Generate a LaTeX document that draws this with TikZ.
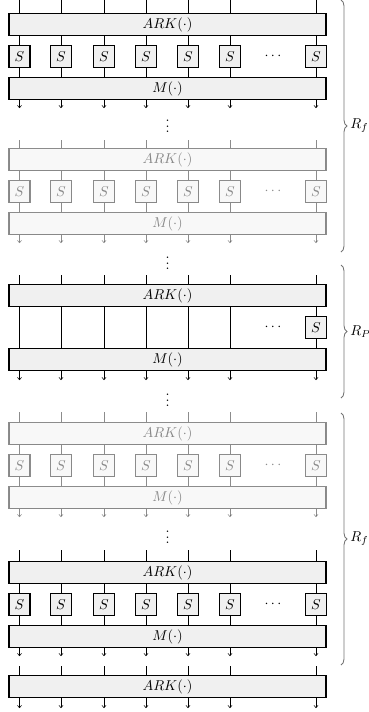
\documentclass[tikz,border=0pt]{standalone}
\usetikzlibrary{decorations.pathreplacing,arrows.meta}
\tikzset{
  box/.style={draw=black, line width=0.8pt, fill=black!6, inner sep=0pt},
  arkbox/.style={box, minimum width=221.9pt, minimum height=15.4pt},
  sbox/.style={box, minimum width=14.7pt, minimum height=15.4pt},
  wire/.style={line width=0.4pt},
  arr/.style={wire, -{To[length=2pt,width=3.2pt]}},
  faded/.style={opacity=0.45},
  rbrace/.style={decorate, decoration={brace, amplitude=4.2pt}, draw=black!55, line width=0.6pt},
}
% #1 name, #2 top of ARK box, #3 start of wires
\newcommand\mkfullround[3]{%
  \node[arkbox, anchor=north] (#1ark) at (167.5,#2) {$ARK(\cdot)$};
  \node[arkbox, anchor=north] (#1m) at (167.5,#2+64) {$M(\cdot)$};
  \foreach \x [count=\i] in {19.5,61,104,146,188,230,316}{
    \coordinate (#1t\i) at (\x,#3);
    \coordinate (#1b\i) at (\x,#2+95);
    \node[sbox, anchor=north] (#1s\i) at (\x,#2+32) {$S$};
    \draw[wire] (#1t\i) -- (#1t\i |- #1ark.north);
    \draw[wire] (#1t\i |- #1ark.south) -- (#1s\i.north);
    \draw[wire] (#1s\i.south) -- (#1t\i |- #1m.north);
    \draw[arr] (#1t\i |- #1m.south) -- (#1b\i);
  }
  \node (#1hd) at (273,#2+43) {$\cdots$};
}
\begin{document}
\begin{tikzpicture}[x=0.7pt,y=-0.7pt]
\useasboundingbox (0,0) rectangle (368,712);

% round 1 (full)
\mkfullround{a}{13}{0}
\node (vd1) at (167.5,122) {$\vdots$};

% round 2 (full, faded)
\begin{scope}[faded]
\mkfullround{b}{148}{140}
\end{scope}
\node (vd2) at (167.5,259) {$\vdots$};

% round 3 (partial)
\node[arkbox, anchor=north] (cark) at (167.5,284) {$ARK(\cdot)$};
\node[arkbox, anchor=north] (cm) at (167.5,348) {$M(\cdot)$};
\foreach \x [count=\i] in {19.5,61,104,146,188,230}{
  \coordinate (ct\i) at (\x,275);
  \coordinate (cb\i) at (\x,380);
  \draw[wire] (ct\i) -- (ct\i |- cark.north);
  \draw[wire] (ct\i |- cark.south) -- (ct\i |- cm.north);
  \draw[arr] (ct\i |- cm.south) -- (cb\i);
}
\coordinate (ct7) at (316,275);
\coordinate (cb7) at (316,380);
\node[sbox, anchor=north] (cs7) at (316,316) {$S$};
\draw[wire] (ct7) -- (ct7 |- cark.north);
\draw[wire] (ct7 |- cark.south) -- (cs7.north);
\draw[wire] (cs7.south) -- (ct7 |- cm.north);
\draw[arr] (ct7 |- cm.south) -- (cb7);
\node (chd) at (273,327) {$\cdots$};
\node (vd3) at (167.5,396) {$\vdots$};

% round 4 (full, faded)
\begin{scope}[faded]
\mkfullround{d}{422}{412}
\end{scope}
\node (vd4) at (167.5,533) {$\vdots$};

% round 5 (full)
\mkfullround{e}{561}{550}

% final ARK
\node[arkbox, anchor=north] (fark) at (167.5,675) {$ARK(\cdot)$};
\foreach \x [count=\i] in {19.5,61,104,146,188,230,316}{
  \coordinate (ft\i) at (\x,666);
  \coordinate (fb\i) at (\x,708);
  \draw[wire] (ft\i) -- (ft\i |- fark.north);
  \draw[arr] (ft\i |- fark.south) -- (fb\i);
}

% braces
\coordinate (br1a) at (341,0);
\coordinate (br1b) at (341,252);
\draw[rbrace] (br1a) -- (br1b);
\node[anchor=west, inner sep=0pt] (lbl1) at (350,126) {$R_f$};

\coordinate (br2a) at (341,265);
\coordinate (br2b) at (341,398);
\draw[rbrace] (br2a) -- (br2b);
\node[anchor=west, inner sep=0pt] (lbl2) at (350,332) {$R_P$};

\coordinate (br3a) at (341,413);
\coordinate (br3b) at (341,665);
\draw[rbrace] (br3a) -- (br3b);
\node[anchor=west, inner sep=0pt] (lbl3) at (350,539) {$R_f$};
\end{tikzpicture}
\end{document}
